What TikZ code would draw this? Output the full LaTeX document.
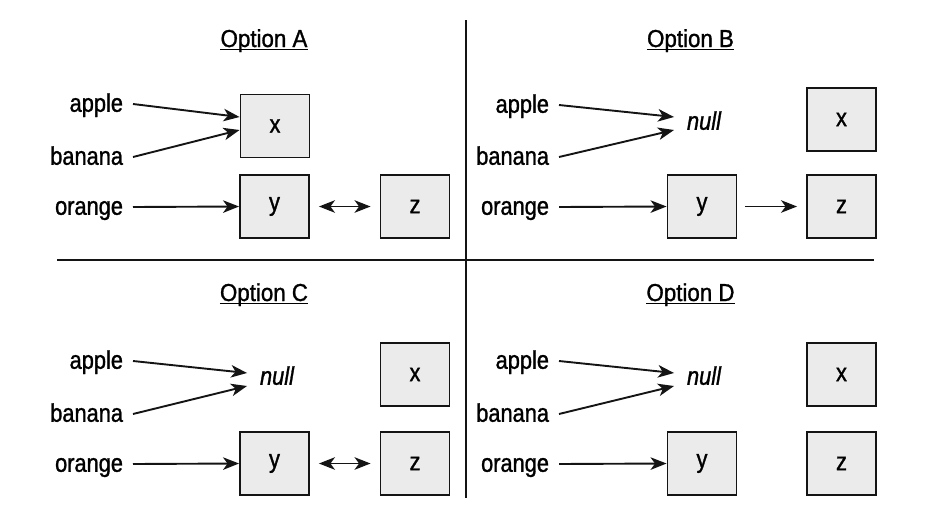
\documentclass[tikz,border=0pt]{standalone}
\usepackage{fontspec}
\setmainfont{Liberation Sans}[FakeStretch=0.855, FakeBold=1.2]
\newfontfamily\headfont{Liberation Sans}[FakeStretch=0.91, FakeBold=1.2]
\usetikzlibrary{arrows.meta}
\definecolor{boxfill}{HTML}{EBEBEB}
\definecolor{ink}{HTML}{141414}
\begin{document}
\begin{tikzpicture}[x=1pt,y=-1pt,
  every node/.style={font=\fontsize{25.5}{29}\selectfont, text=black},
  cell/.style={draw=ink, fill=boxfill, line width=1.9pt,
    minimum width=69pt, minimum height=63pt, inner sep=0},
  word/.style={anchor=east, inner sep=0, outer xsep=10pt,
    text height=18.5pt, text depth=3pt},
  nullword/.style={inner sep=0, outer xsep=13pt, text height=18.5pt, text depth=3pt,
    font=\fontsize{25.5}{29}\selectfont\itshape},
  title/.style={anchor=base, inner sep=0, font=\headfont\fontsize{24.5}{29}\selectfont},
  tip/.tip={Stealth[length=16pt,width=12.5pt,inset=4.5pt]},
  ptr/.style={-tip, line width=1.9pt, draw=ink},
  twoway/.style={tip-tip, line width=1.9pt, draw=ink, shorten <=9pt, shorten >=9pt},
  oneway/.style={ptr, shorten <=8pt, shorten >=9pt},
  rule/.style={draw=ink, line width=2pt},
  uline/.style={draw=black, line width=1.7pt}
]
\path[use as bounding box] (0,0) rectangle (930,517);

% dividers between the four panels
\draw[rule] (466,20) -- (466,498);
\draw[rule] (57,259.5) -- (874,259.5);

% ---------- Option A ----------
\node[title] (tA) at (264,47) {Option A};
\draw[uline] ([yshift=-2.5pt]tA.base west) -- ([yshift=-2.5pt]tA.base east);
\node[word] (apA) at (133,104) {apple};
\node[word] (baA) at (133,157) {banana};
\node[word] (orA) at (133,207) {orange};
\node[cell] (xA) at (275,126) {x};
\node[cell] (yA) at (274.5,206.5) {y};
\node[cell] (zA) at (415,206.5) {z};
\draw[ptr] (apA.east) -- ([yshift=9pt]xA.west);
\draw[ptr] (baA.east) -- ([yshift=-4pt]xA.west);
\draw[ptr] (orA.east) -- (yA.west);
\draw[twoway] (yA.east) -- (zA.west);

% ---------- Option B ----------
\node[title] (tB) at (690.5,47) {Option B};
\draw[uline] ([yshift=-2.5pt]tB.base west) -- ([yshift=-2.5pt]tB.base east);
\node[word] (apB) at (559,105) {apple};
\node[word] (baB) at (559,157) {banana};
\node[word] (orB) at (559,207) {orange};
\node[nullword] (nuB) at (704,122) {null};
\node[cell] (xB) at (841.5,119.5) {x};
\node[cell] (yB) at (702,206.5) {y};
\node[cell] (zB) at (841.5,206.5) {z};
\draw[ptr] (apB.east) -- ([yshift=5pt]nuB.west);
\draw[ptr] (baB.east) -- ([yshift=-8pt]nuB.west);
\draw[ptr] (orB.east) -- (yB.west);
\draw[oneway] (yB.east) -- (zB.west);

% ---------- Option C ----------
\node[title] (tC) at (264,301) {Option C};
\draw[uline] ([yshift=-2.5pt]tC.base west) -- ([yshift=-2.5pt]tC.base east);
\node[word] (apC) at (133,361) {apple};
\node[word] (baC) at (133,414) {banana};
\node[word] (orC) at (133,464) {orange};
\node[nullword] (nuC) at (277,377) {null};
\node[cell] (xC) at (415,374.5) {x};
\node[cell] (yC) at (274.5,463.5) {y};
\node[cell] (zC) at (415,463.5) {z};
\draw[ptr] (apC.east) -- ([yshift=4pt]nuC.west);
\draw[ptr] (baC.east) -- ([yshift=-9pt]nuC.west);
\draw[ptr] (orC.east) -- (yC.west);
\draw[twoway] (yC.east) -- (zC.west);

% ---------- Option D ----------
\node[title] (tD) at (690.5,301) {Option D};
\draw[uline] ([yshift=-2.5pt]tD.base west) -- ([yshift=-2.5pt]tD.base east);
\node[word] (apD) at (559,361) {apple};
\node[word] (baD) at (559,414) {banana};
\node[word] (orD) at (559,464) {orange};
\node[nullword] (nuD) at (704,377) {null};
\node[cell] (xD) at (841.5,374.5) {x};
\node[cell] (yD) at (702,463.5) {y};
\node[cell] (zD) at (841.5,463.5) {z};
\draw[ptr] (apD.east) -- ([yshift=4pt]nuD.west);
\draw[ptr] (baD.east) -- ([yshift=-9pt]nuD.west);
\draw[ptr] (orD.east) -- (yD.west);
\end{tikzpicture}
\end{document}
